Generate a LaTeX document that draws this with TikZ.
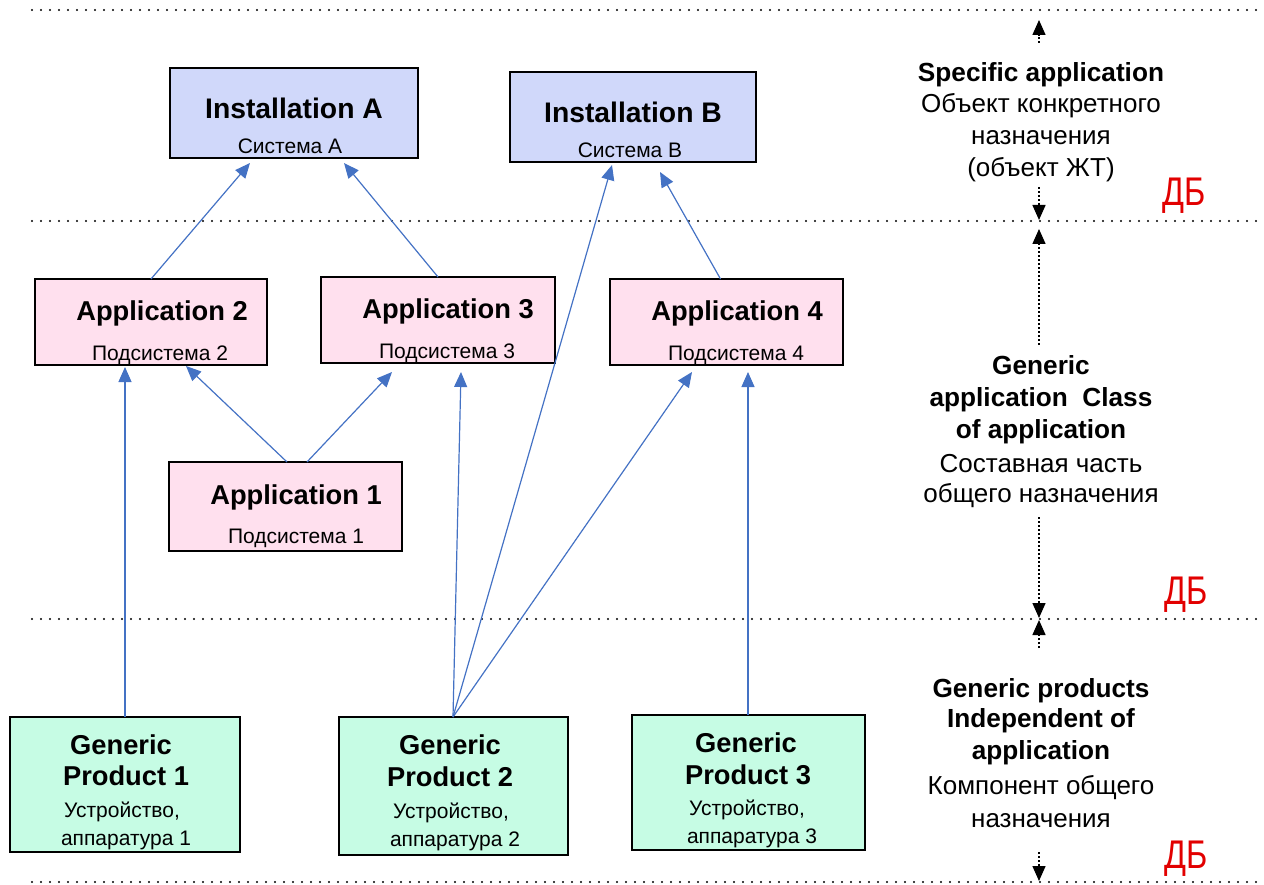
\documentclass[tikz,border=0pt]{standalone}
\usepackage{fontspec}
\setmainfont{Liberation Sans}
\usetikzlibrary{arrows.meta}
\definecolor{instfill}{RGB}{208,216,250}
\definecolor{appfill}{RGB}{255,224,238}
\definecolor{gpfill}{RGB}{198,252,228}
\definecolor{arrblue}{RGB}{68,114,196}
\definecolor{dbred}{RGB}{226,0,0}
\begin{document}
\begin{tikzpicture}[x=1pt,y=-1pt,
  box/.style={draw=black, line width=1.6pt, inner sep=0pt, outer sep=0pt},
  ttl/.style={font=\bfseries\fontsize{27.3}{30}\selectfont, inner sep=0pt, anchor=base},
  bigttl/.style={font=\bfseries\fontsize{28.3}{30}\selectfont, inner sep=0pt, anchor=base},
  sub/.style={font=\fontsize{21}{24}\selectfont, inner sep=0pt, anchor=base},
  side/.style={font=\bfseries\fontsize{26.2}{30}\selectfont, inner sep=0pt, anchor=base},
  sidereg/.style={font=\fontsize{26}{30}\selectfont, inner sep=0pt, anchor=base},
  db/.style={text=dbred, font=\fontsize{40}{40}\selectfont, inner sep=0pt, anchor=base},
  link/.style={draw=arrblue, line width=1.2pt, -{Triangle[length=15pt,width=13pt]}},
  sep/.style={line width=2.4pt, dash pattern=on 0pt off 9pt, line cap=round},
  level/.style={black, line width=1.4pt, dash pattern=on 2pt off 2pt, -{Triangle[length=15pt,width=13pt]}}
]
\useasboundingbox (0,0) rectangle (1264,885);

% separators
\draw[sep] (32,10) -- (1264,10);
\draw[sep] (32,221) -- (1264,221);
\draw[sep] (32,619) -- (1264,619);
\draw[sep] (32,882) -- (1264,882);

% boxes
\node[box, fill=instfill, minimum width=248pt, minimum height=90pt] (instA) at (294,113) {};
\node[box, fill=instfill, minimum width=246pt, minimum height=90pt] (instB) at (633,117) {};
\node[box, fill=appfill, minimum width=232pt, minimum height=86pt] (app2) at (151,322) {};
\node[box, fill=appfill, minimum width=234pt, minimum height=86pt] (app3) at (438,320) {};
\node[box, fill=appfill, minimum width=233pt, minimum height=86pt] (app4) at (726.5,322) {};
\node[box, fill=appfill, minimum width=233pt, minimum height=89pt] (app1) at (285.5,506.5) {};
\node[box, fill=gpfill, minimum width=230pt, minimum height=135pt] (gp1) at (125,784.5) {};
\node[box, fill=gpfill, minimum width=229pt, minimum height=138pt] (gp2) at (453.5,786) {};
\node[box, fill=gpfill, minimum width=233pt, minimum height=135pt] (gp3) at (748.5,782.5) {};

% box texts
\node[bigttl] (instAt) at (294,118.5) {Installation A};
\node[sub] (instAs) at (290,153.5) {Система А};
\node[bigttl] (instBt) at (633,122.5) {Installation B};
\node[sub] (instBs) at (630,157.5) {Система В};
\node[ttl] (app2t) at (162,321) {Application 2};
\node[sub] (app2s) at (160,360.5) {Подсистема 2};
\node[ttl] (app3t) at (448,319) {Application 3};
\node[sub] (app3s) at (447,358.5) {Подсистема 3};
\node[ttl] (app4t) at (737,321) {Application 4};
\node[sub] (app4s) at (736,360.5) {Подсистема 4};
\node[ttl] (app1t) at (296,504) {Application 1};
\node[sub] (app1s) at (296,543.5) {Подсистема 1};
\node[ttl] (gp1a) at (121,754) {Generic};
\node[ttl] (gp1b) at (126,785) {Product 1};
\node[sub] (gp1c) at (122,817.5) {Устройство,};
\node[sub] (gp1d) at (126,845.5) {аппаратура 1};
\node[ttl] (gp2a) at (450,754) {Generic};
\node[ttl] (gp2b) at (450,786) {Product 2};
\node[sub] (gp2c) at (451,818.5) {Устройство,};
\node[sub] (gp2d) at (455,846.5) {аппаратура 2};
\node[ttl] (gp3a) at (746,752) {Generic};
\node[ttl] (gp3b) at (748,784) {Product 3};
\node[sub] (gp3c) at (747,815.5) {Устройство,};
\node[sub] (gp3d) at (752,843.5) {аппаратура 3};

% links
\draw[link] (app2.north) -- ([shift={(-44,5)}]instA.south);
\draw[link] (app3.north) -- ([shift={(50,5)}]instA.south);
\draw[link] ([xshift=-6pt]app4.north) -- ([shift={(27,10)}]instB.south);
\draw[link] ([xshift=-0.5pt]gp2.north) -- ([shift={(-21,3)}]instB.south);
\draw[link] ([xshift=-0.5pt]gp2.north) -- ([shift={(23,9)}]app3.south);
\draw[link] ([xshift=-0.5pt]gp2.north) -- ([shift={(-34.5,7)}]app4.south);
\draw[link] (gp1.north) -- ([shift={(-26,2)}]app2.south);
\draw[link] ([xshift=-0.5pt]gp3.north) -- ([shift={(21.5,7)}]app4.south);
\draw[link] ([xshift=1.5pt]app1.north) -- ([shift={(35,1)}]app2.south);
\draw[link] ([xshift=21.5pt]app1.north) -- ([shift={(-46,9)}]app3.south);

% right column texts
\node[side] (s1) at (1041,81.5) {Specific application};
\node[sidereg] (s2) at (1041,113) {Объект конкретного};
\node[sidereg] (s3) at (1041,145) {назначения};
\node[sidereg] (s4) at (1041,177) {(объект ЖТ)};

\node[side] (m1) at (1041,374.5) {Generic};
\node[side] (m2) at (1041,406.5) {application\ \ Class};
\node[side] (m3) at (1041,438.5) {of application};
\node[sidereg] (m4) at (1041,472) {Составная часть};
\node[sidereg] (m5) at (1041,502) {общего назначения};

\node[side] (b1) at (1041,697.5) {Generic products};
\node[side] (b2) at (1041,727.5) {Independent of};
\node[side] (b3) at (1041,759.5) {application};
\node[sidereg] (b4) at (1041,794) {Компонент общего};
\node[sidereg] (b5) at (1041,827) {назначения};

\node[db] (db1) at (1184,206) {\scalebox{0.81}[1]{ДБ}};
\node[db] (db2) at (1186,604) {\scalebox{0.81}[1]{ДБ}};
\node[db] (db3) at (1186,868) {\scalebox{0.81}[1]{ДБ}};

% level arrows
\coordinate (la1s) at (1039,43);
\coordinate (la1e) at (1039,20);
\coordinate (la2s) at (1039,187);
\coordinate (la2e) at (1039,220);
\coordinate (la3s) at (1039,345);
\coordinate (la3e) at (1039,229);
\coordinate (la4s) at (1039,517);
\coordinate (la4e) at (1039,618);
\coordinate (la5s) at (1039,648);
\coordinate (la5e) at (1039,620);
\coordinate (la6s) at (1039,852);
\coordinate (la6e) at (1039,881);
\draw[level] (la1s) -- (la1e);
\draw[level] (la2s) -- (la2e);
\draw[level] (la3s) -- (la3e);
\draw[level] (la4s) -- (la4e);
\draw[level] (la5s) -- (la5e);
\draw[level] (la6s) -- (la6e);
\end{tikzpicture}
\end{document}
